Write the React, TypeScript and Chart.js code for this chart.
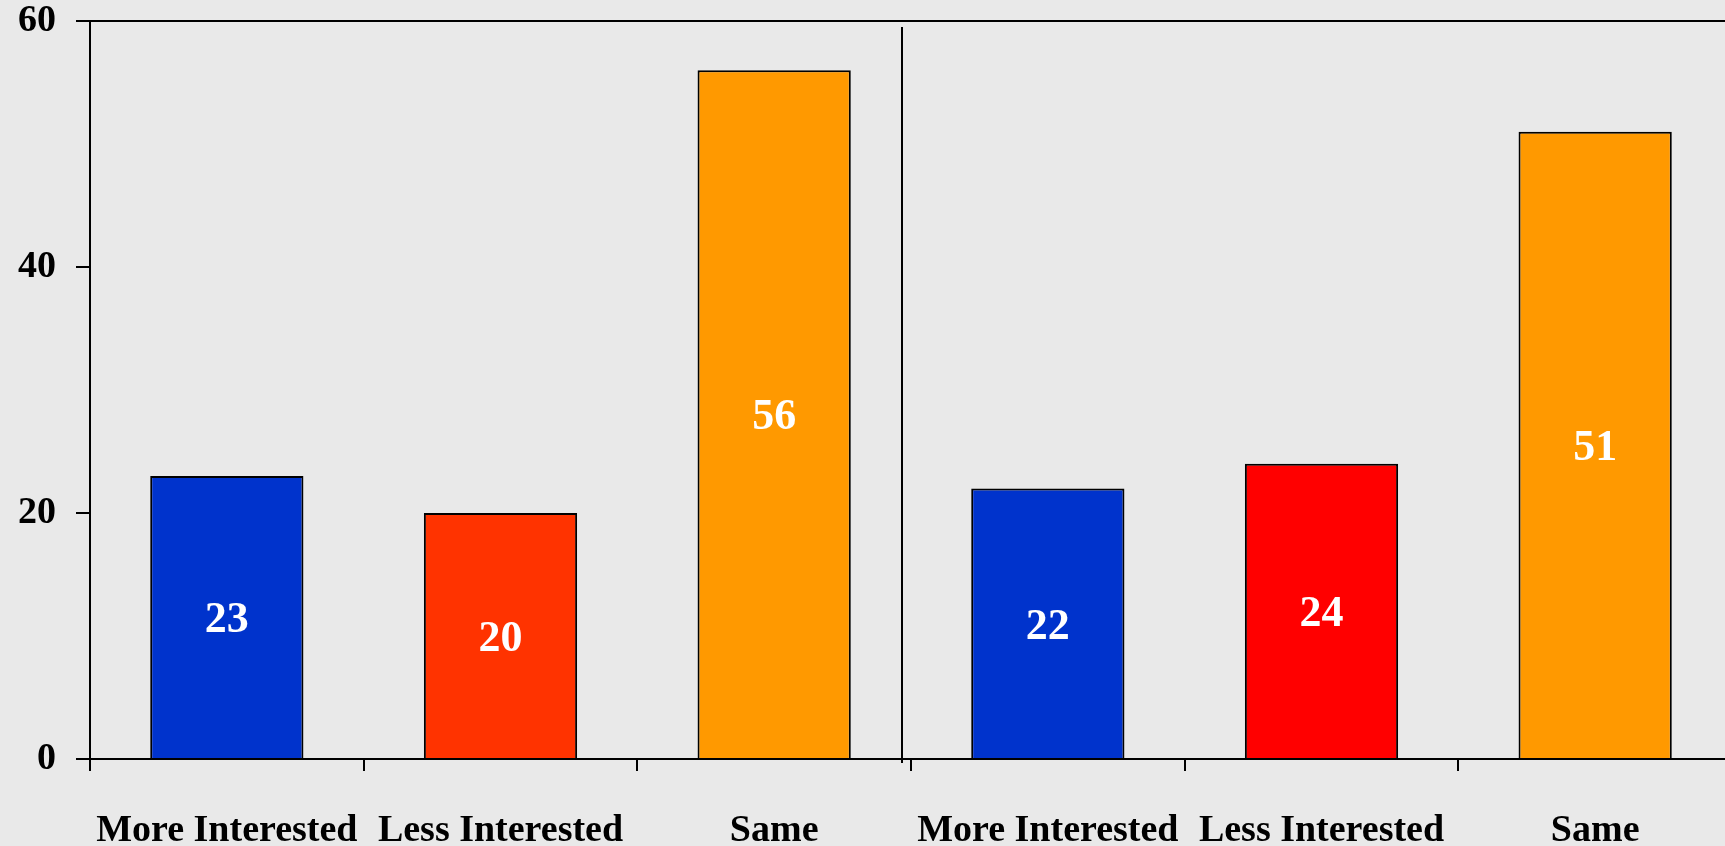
import React, { useEffect, useRef } from "react";
import { Chart, registerables } from "chart.js";

Chart.register(...registerables);

const categories = [
  "More Interested",
  "Less Interested",
  "Same",
  "More Interested",
  "Less Interested",
  "Same",
];
const values = [23, 20, 56, 22, 24, 51];
const barColors = ["#0033CC", "#FF3300", "#FF9900", "#0033CC", "#FF0000", "#FF9900"];
const yMin = 0;
const yMax = 60;
const yStep = 20;

const FONT = "'Liberation Serif', 'Times New Roman', serif";

export default function App() {
  const ref = useRef<HTMLCanvasElement>(null);

  useEffect(() => {
    if (!ref.current) return;

    const valueLabels = {
      id: "valueLabels",
      afterDatasetsDraw(chart: any) {
        const ctx = chart.ctx;
        const meta = chart.getDatasetMeta(0);
        ctx.save();
        ctx.fillStyle = "#FFFFFF";
        ctx.font = `bold 44px ${FONT}`;
        ctx.textAlign = "center";
        ctx.textBaseline = "middle";
        meta.data.forEach((bar: any, i: number) => {
          const midY = (bar.y + bar.base) / 2 + 4;
          ctx.fillText(String(values[i]), bar.x, midY);
        });
        ctx.restore();
      },
    };

    const divider = {
      id: "divider",
      afterDraw(chart: any) {
        const ctx = chart.ctx;
        const x = chart.scales.x;
        const area = chart.chartArea;
        const boundary = (x.getPixelForValue(2) + x.getPixelForValue(3)) / 2 - 9;
        ctx.save();
        ctx.strokeStyle = "#000";
        ctx.lineWidth = 2;
        ctx.beginPath();
        ctx.moveTo(boundary, area.top + 6);
        ctx.lineTo(boundary, area.bottom + 4);
        ctx.stroke();
        ctx.restore();
      },
    };

    const chart = new Chart(ref.current, {
      type: "bar",
      data: {
        labels: categories,
        datasets: [
          {
            data: values,
            backgroundColor: barColors,
            borderColor: "#000",
            borderWidth: 2,
            barPercentage: 0.56,
            categoryPercentage: 1,
          },
        ],
      },
      options: {
        animation: false,
        responsive: false,
        maintainAspectRatio: false,
        layout: { padding: { top: 21, right: 0, left: 0, bottom: 0 } },
        plugins: { legend: { display: false }, tooltip: { enabled: false } },
        scales: {
          x: {
            offset: true,
            grid: {
              offset: true,
              drawOnChartArea: false,
              color: "#000",
              lineWidth: 2,
              tickLength: 12,
            },
            border: { color: "#000", width: 2 },
            ticks: {
              color: "#000",
              font: { family: FONT, size: 38, weight: "bold" },
              padding: 37,
              maxRotation: 0,
              autoSkip: false,
            },
            afterFit(scale: any) {
              scale.height = 87;
              scale.paddingLeft = 0;
              scale.paddingRight = 0;
            },
          },
          y: {
            min: yMin,
            max: yMax,
            ticks: {
              stepSize: yStep,
              color: "#000",
              font: { family: FONT, size: 38, weight: "bold" },
              padding: 20,
            },
            grid: {
              color: (c: any) => (c.tick && c.tick.value === yMax ? "#000" : "rgba(0,0,0,0)"),
              tickColor: "#000",
              lineWidth: 2,
              tickLength: 14,
            },
            border: { color: "#000", width: 2 },
            afterFit(scale: any) {
              scale.width = 90;
              scale.paddingTop = 0;
              scale.paddingBottom = 0;
            },
          },
        },
      },
      plugins: [valueLabels, divider],
    });

    return () => chart.destroy();
  }, []);

  return (
    <div
      style={{
        position: "fixed",
        left: 0,
        top: 0,
        width: 1725,
        height: 846,
        overflow: "hidden",
        background: "#E9E9E9",
      }}
    >
      <canvas ref={ref} width={1732} height={846} style={{ display: "block" }} />
    </div>
  );
}
